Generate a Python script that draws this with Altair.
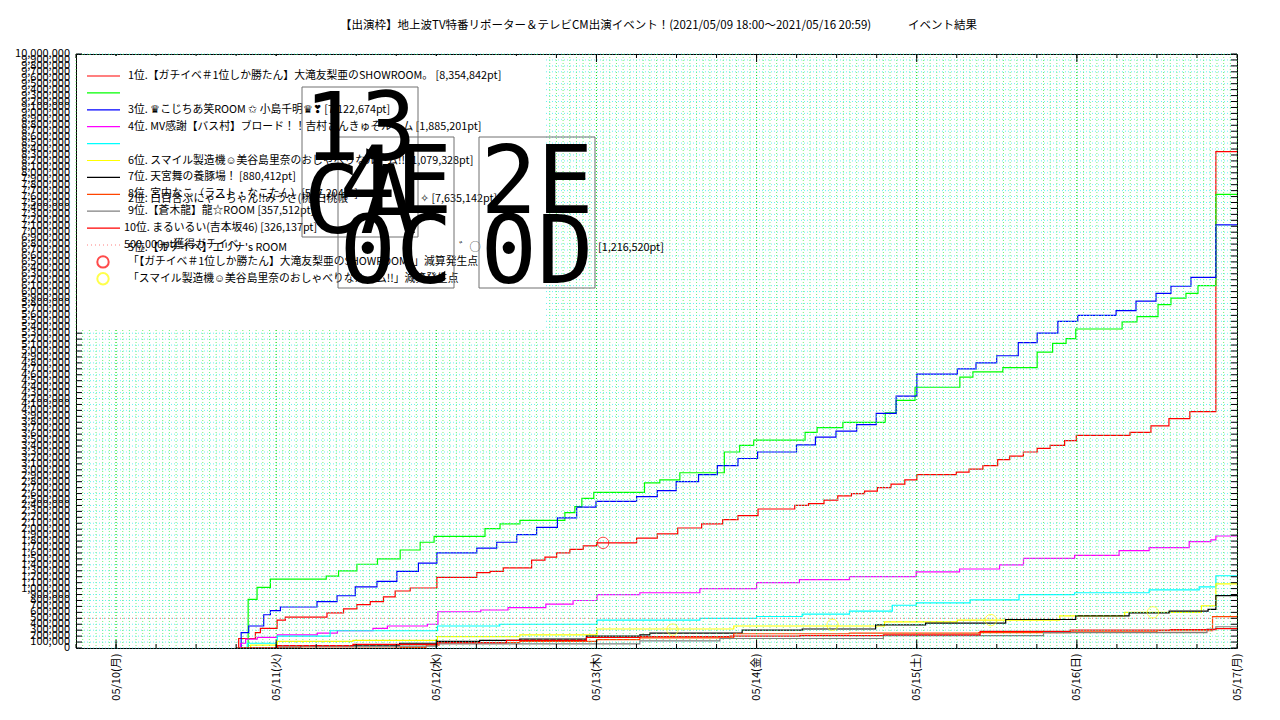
import json
import altair as alt
import pandas as pd

W, H = 1161, 594
FONT = "Noto Sans CJK JP"

# ---------------- data (time "MM/DD HH:MM", points) ----------------
s01_red = [("05/10 18:00",0),("05/10 18:23",160000),("05/10 20:53",260000),("05/10 21:38",330000),("05/11 00:08",470000),("05/11 01:23",520000),("05/11 07:37",590000),("05/11 10:06",660000),("05/11 12:06",730000),("05/11 14:06",780000),("05/11 16:05",860000),("05/11 17:50",960000),("05/11 20:05",1010000),("05/12 00:05",1190000),("05/12 06:04",1270000),("05/12 08:03",1290000),("05/12 10:02",1350000),("05/12 14:17",1480000),("05/12 16:17",1530000),("05/12 18:02",1600000),("05/12 20:01",1660000),("05/12 22:01",1720000),("05/13 00:01",1770000),("05/13 06:01",1850000),("05/13 09:07",1920000),("05/13 12:11",2020000),("05/13 15:46",2090000),("05/13 18:55",2160000),("05/13 21:13",2230000),("05/14 00:13",2340000),("05/14 05:43",2400000),("05/14 07:47",2430000),("05/14 10:06",2490000),("05/14 12:10",2560000),("05/14 14:13",2600000),("05/14 16:11",2640000),("05/14 18:06",2700000),("05/14 20:09",2760000),("05/14 22:13",2830000),("05/15 00:01",2920000),("05/15 05:56",2960000),("05/15 07:51",3010000),("05/15 09:55",3070000),("05/15 12:08",3170000),("05/15 13:56",3230000),("05/15 15:59",3300000),("05/15 18:03",3360000),("05/15 20:00",3410000),("05/15 22:10",3490000),("05/15 23:55",3580000),("05/16 07:58",3630000),("05/16 11:06",3740000),("05/16 13:48",3860000),("05/16 16:56",3980000),("05/16 20:50",8354842),("05/17 00:00",8354842)]
s02_green = [("05/10 18:00",0),("05/10 19:48",820000),("05/10 21:08",1020000),("05/10 23:08",1160000),("05/11 07:30",1210000),("05/11 09:21",1300000),("05/11 12:06",1410000),("05/11 15:11",1500000),("05/11 18:35",1650000),("05/11 21:35",1780000),("05/11 23:40",1880000),("05/12 07:18",2010000),("05/12 09:33",2090000),("05/12 12:32",2150000),("05/12 19:16",2280000),("05/12 20:46",2380000),("05/12 21:49",2520000),("05/12 23:36",2620000),("05/13 07:12",2780000),("05/13 09:30",2830000),("05/13 12:30",2950000),("05/13 19:10",3300000),("05/13 21:28",3410000),("05/13 23:34",3500000),("05/14 07:16",3630000),("05/14 09:04",3710000),("05/14 12:56",3800000),("05/14 19:17",3960000),("05/14 20:55",4170000),("05/14 23:45",4390000),("05/15 06:28",4560000),("05/15 08:25",4650000),("05/15 12:54",4720000),("05/15 18:03",4980000),("05/15 20:22",5130000),("05/15 22:23",5210000),("05/15 23:50",5370000),("05/16 06:47",5490000),("05/16 09:01",5580000),("05/16 12:10",5780000),("05/16 14:06",5890000),("05/16 16:21",5970000),("05/16 18:09",6100000),("05/16 20:50",7635142),("05/17 00:00",7635142)]
s03_blue = [("05/10 18:00",0),("05/10 18:45",260000),("05/10 19:53",370000),("05/10 22:08",560000),("05/10 23:08",630000),("05/11 00:38",690000),("05/11 06:07",780000),("05/11 09:07",880000),("05/11 11:51",1030000),("05/11 15:06",1120000),("05/11 18:05",1290000),("05/11 21:19",1430000),("05/12 00:05",1600000),("05/12 06:04",1680000),("05/12 09:03",1780000),("05/12 12:03",1910000),("05/12 15:02",2030000),("05/12 18:09",2190000),("05/12 21:02",2370000),("05/12 23:56",2470000),("05/13 06:01",2550000),("05/13 09:07",2650000),("05/13 11:57",2800000),("05/13 15:18",2920000),("05/13 18:07",3070000),("05/13 21:13",3190000),("05/14 00:09",3300000),("05/14 05:59",3420000),("05/14 08:49",3550000),("05/14 11:54",3650000),("05/14 15:00",3760000),("05/14 17:56",3950000),("05/14 20:55",4240000),("05/15 00:01",4610000),("05/15 06:05",4700000),("05/15 08:53",4800000),("05/15 11:59",4920000),("05/15 15:13",5140000),("05/15 18:03",5300000),("05/15 21:09",5500000),("05/16 00:08",5600000),("05/16 05:53",5680000),("05/16 08:52",5840000),("05/16 11:52",5970000),("05/16 14:06",6090000),("05/16 17:06",6240000),("05/16 20:50",7122674),("05/17 00:00",7122674)]
s04_magenta = [("05/10 18:00",0),("05/10 18:40",80000),("05/10 19:25",150000),("05/10 21:10",180000),("05/11 00:10",220000),("05/11 06:10",250000),("05/11 09:10",290000),("05/11 14:30",330000),("05/11 16:40",370000),("05/11 22:40",400000),("05/12 00:15",610000),("05/12 06:40",640000),("05/12 10:45",680000),("05/12 16:25",740000),("05/12 20:30",800000),("05/13 00:05",900000),("05/13 06:30",930000),("05/13 15:30",1000000),("05/14 00:00",1100000),("05/14 06:25",1150000),("05/14 13:55",1200000),("05/14 23:55",1280000),("05/15 06:25",1330000),("05/15 12:25",1400000),("05/15 16:00",1510000),("05/15 23:40",1560000),("05/16 06:20",1640000),("05/16 10:50",1690000),("05/16 16:50",1790000),("05/16 20:05",1820000),("05/16 20:50",1885201),("05/17 00:00",1885201)]
s05_cyan = [("05/10 18:00",0),("05/10 19:40",80000),("05/11 00:10",200000),("05/11 08:05",290000),("05/12 00:10",370000),("05/12 09:30",400000),("05/13 00:05",470000),("05/13 15:30",500000),("05/14 00:00",530000),("05/14 06:50",570000),("05/14 13:55",620000),("05/14 20:20",720000),("05/14 23:55",760000),("05/15 08:00",810000),("05/15 15:20",900000),("05/15 23:40",930000),("05/16 10:50",980000),("05/16 18:20",1030000),("05/16 20:50",1216520),("05/17 00:00",1216520)]
s06_yellow = [("05/10 18:00",0),("05/10 20:10",50000),("05/11 00:10",110000),("05/11 11:30",130000),("05/12 00:10",190000),("05/12 12:30",220000),("05/13 00:05",320000),("05/13 20:35",370000),("05/14 19:10",440000),("05/15 06:05",470000),("05/15 21:25",540000),("05/16 07:10",600000),("05/16 18:40",710000),("05/16 20:50",1079328),("05/17 00:00",1079328)]
s07_black = [("05/10 18:00",0),("05/11 03:40",40000),("05/11 18:30",80000),("05/12 00:10",110000),("05/12 06:30",130000),("05/12 12:30",150000),("05/12 22:30",200000),("05/13 06:30",220000),("05/13 08:00",250000),("05/13 21:50",300000),("05/14 06:50",320000),("05/14 17:50",390000),("05/15 01:20",420000),("05/15 13:20",480000),("05/15 23:50",540000),("05/16 07:50",590000),("05/16 13:50",620000),("05/16 19:40",650000),("05/16 20:50",880412),("05/17 00:00",880412)]
s08_orange = [("05/10 18:00",0),("05/11 18:35",10000),("05/11 22:30",50000),("05/12 00:25",90000),("05/12 12:30",110000),("05/13 00:04",140000),("05/13 06:30",170000),("05/13 20:34",240000),("05/14 13:54",250000),("05/15 09:18",260000),("05/15 23:00",270000),("05/16 12:00",290000),("05/16 20:20",527204),("05/17 00:00",527204)]
s09_gray = [("05/10 18:00",0),("05/11 00:10",30000),("05/12 00:10",70000),("05/13 06:30",120000),("05/13 18:30",160000),("05/14 19:00",210000),("05/15 19:00",260000),("05/16 19:30",320000),("05/16 20:50",357512),("05/17 00:00",357512)]
s10_red = [("05/10 18:00",0),("05/11 00:10",40000),("05/11 11:30",60000),("05/12 00:10",90000),("05/12 10:30",130000),("05/12 22:30",180000),("05/13 06:30",190000),("05/13 20:00",200000),("05/14 06:30",210000),("05/14 19:00",220000),("05/15 09:30",280000),("05/15 23:00",300000),("05/16 14:00",310000),("05/16 20:50",326137),("05/17 00:00",326137)]

series_data = [s01_red, s02_green, s03_blue, s04_magenta, s05_cyan,
               s06_yellow, s07_black, s08_orange, s09_gray, s10_red]
series_colors = ["#ff0000", "#00ff00", "#0000ff", "#ff00ff", "#00ffff",
                 "#ffff00", "#000000", "#ff4500", "#808080", "#ff0000"]

red_marks = [("05/13 01:00", 1770000)]
yellow_marks = [("05/13 11:24", 310000), ("05/14 11:23", 390000),
                ("05/15 11:06", 470000), ("05/16 11:24", 600000)]
threshold = 500000

y_tick_values = list(range(0, 10_000_001, 100_000))
y_tick_labels = [f"{v:,}" for v in y_tick_values]
day_labels = ["05/10(月)", "05/11(火)", "05/12(水)", "05/13(木)",
              "05/14(金)", "05/15(土)", "05/16(日)", "05/17(月)"]
title_main = "【出演枠】地上波TV特番リポーター＆テレビCM出演イベント！(2021/05/09 18:00～2021/05/16 20:59)"
title_right = "イベント結果"

legend_labels = [
    "1位.【ガチイベ＃1位しか勝たん】大滝友梨亜のSHOWROOM。 [8,354,842pt]",
    "",
    "3位. ♛こじちあ笑ROOM ✩ 小島千明♛❣ [7,122,674pt]",
    "4位. MV感謝【バス村】ブロード！！吉村さんきゅそルーム [1,885,201pt]",
    "",
    "6位. スマイル製造機☺美谷島里奈のおしゃべりなルーム!! [1,079,328pt]",
    "7位. 天宮舞の養豚場！ [880,412pt]",
    "8位. 宮内なこ（ラスト・なこたん）[527,204pt]",
    "9位.【蒼木龍】龍☆ROOM [357,512pt]",
    "10位. まるいるい(吉本坂46) [326,137pt]",
    "500,000pt獲得ガチイベ",
    "「【ガチイベ＃1位しか勝たん】大滝友梨亜のSHOWROOM。」減算発生点",
    "「スマイル製造機☺美谷島里奈のおしゃべりなルーム!!」減算発生点",
]
extra_labels = ["2位. 白百合ぷにゃーちゃん!!みうさ(桃)白桃帳", "✧ [7,635,142pt]",
                "5位.【ガチイベ】エリナ's ROOM", "゛◯", "[1,216,520pt]"]
tofu_rows = [("13", "CA"), ("4E", "0C"), ("2E", "0D")]


def iso(s):
    md, hm = s.split()
    m, d = md.split("/")
    return f"2021-{m}-{d}T{hm}:00Z"


def ms(s):
    return int(pd.Timestamp(iso(s)).value // 10**6)


rows = []
keys = []
for k, pts in enumerate(series_data):
    key = f"s{k+1:02d}"
    keys.append(key)
    for t, v in pts:
        rows.append({"s": key, "t": iso(t), "v": v})
df = pd.DataFrame(rows)

x_scale = alt.Scale(type="utc", domain=[ms("05/09 18:00"), ms("05/17 00:00")])
y_scale = alt.Scale(domain=[0, 10_000_000])

day_ms = [ms(f"05/{d:02d} 00:00") for d in range(10, 18)]
label_expr = (json.dumps(day_labels, ensure_ascii=False)
              + f"[round((datum.value - {day_ms[0]}) / 86400000)]")

x_axis = alt.Axis(values=day_ms, labelExpr=label_expr, labelAngle=270,
                  labelAlign="right", labelBaseline="middle", labelPadding=5,
                  ticks=False, domain=False, grid=False, title=None,
                  labelFont=FONT, labelFontSize=11, labelColor="black",
                  labelOverlap=False, labelFlush=False)


def X(field="t:T"):
    return alt.X(field, scale=x_scale, title=None)


def Y(field="v:Q"):
    return alt.Y(field, scale=y_scale, title=None)


# ---------------- grid ----------------
hours = pd.date_range(iso("05/09 18:00"), iso("05/17 00:00"), freq="1h")
hour_df = pd.DataFrame({"t": [h.strftime("%Y-%m-%dT%H:%M:%SZ") for h in hours]})
day_df = pd.DataFrame({"t": [iso(f"05/{d:02d} 00:00") for d in range(10, 17)]})
q_df = pd.DataFrame({"t": [h.strftime("%Y-%m-%dT%H:%M:%SZ") for h in
                           pd.date_range(iso("05/09 18:00"), iso("05/17 00:00"), freq="6h")]})
yv_df = pd.DataFrame({"v": y_tick_values, "label": y_tick_labels})

# main layer first so that its axes are the ones used
lines = alt.Chart(df).mark_line(interpolate="step-after", strokeWidth=1.2, clip=True).encode(
    x=alt.X("t:T", scale=x_scale, axis=x_axis),
    y=alt.Y("v:Q", scale=y_scale, axis=None),
    color=alt.Color("s:N", scale=alt.Scale(domain=keys, range=series_colors), legend=None),
)

vgrid = alt.Chart(hour_df).mark_rule(stroke="#44ee44", strokeWidth=1, strokeDash=[1, 2], opacity=0.75).encode(x=X())
dgrid = alt.Chart(day_df).mark_rule(stroke="#22dd22", strokeWidth=1, strokeDash=[1, 2]).encode(x=X())
hgrid = alt.Chart(yv_df).mark_rule(stroke="#44eeee", strokeWidth=1, strokeDash=[1, 2], opacity=0.8).encode(y=Y())

thr = alt.Chart(pd.DataFrame({"v": [threshold]})).mark_rule(
    stroke="#ff7070", strokeWidth=1, strokeDash=[1, 3]).encode(y=Y())

rm_df = pd.DataFrame({"t": [iso(t) for t, _ in red_marks], "v": [v for _, v in red_marks]})
ym_df = pd.DataFrame({"t": [iso(t) for t, _ in yellow_marks], "v": [v for _, v in yellow_marks]})
red_pts = alt.Chart(rm_df).mark_point(shape="circle", filled=False, size=130, stroke="#ff0000", strokeWidth=1).encode(x=X(), y=Y())
yel_pts = alt.Chart(ym_df).mark_point(shape="circle", filled=False, size=130, stroke="#ffff00", strokeWidth=1).encode(x=X(), y=Y())

# ---------------- y labels and inward ticks ----------------
y_labels = alt.Chart(yv_df).mark_text(
    align="right", baseline="middle", font=FONT, fontSize=11, color="black", dx=-6).encode(
    y=Y(), x=alt.value(0), text="label:N")
yt_left = alt.Chart(yv_df).mark_rule(color="black").encode(y=Y(), x=alt.value(0), x2=alt.value(6))
yt_right = alt.Chart(yv_df).mark_rule(color="black").encode(y=Y(), x=alt.value(W - 6), x2=alt.value(W))
xt_bq = alt.Chart(q_df).mark_rule(color="black").encode(x=X(), y=alt.value(H), y2=alt.value(H - 4))
xt_tq = alt.Chart(q_df).mark_rule(color="black").encode(x=X(), y=alt.value(0), y2=alt.value(4))
xt_bd = alt.Chart(day_df).mark_rule(color="black").encode(x=X(), y=alt.value(H), y2=alt.value(H - 8))
xt_td = alt.Chart(day_df).mark_rule(color="black").encode(x=X(), y=alt.value(0), y2=alt.value(8))

# ---------------- key (legend) ----------------
one = pd.DataFrame({"a": [0]})
key_bg = alt.Chart(one).mark_rect(fill="white").encode(
    x=alt.value(1), x2=alt.value(469), y=alt.value(2), y2=alt.value(276))

ROW0, DY = 22.0, 16.9
ln_df = pd.DataFrame({"y": [ROW0 + DY * i for i in range(10)], "c": series_colors})
key_lines = alt.Chart(ln_df).mark_rule(strokeWidth=1.2).encode(
    x=alt.value(11), x2=alt.value(44),
    y=alt.Y("y:Q", scale=None, title=None),
    color=alt.Color("c:N", scale=None, legend=None))
key_dot = alt.Chart(one).mark_rule(stroke="#ff8080", strokeWidth=1, strokeDash=[1, 3]).encode(
    x=alt.value(11), x2=alt.value(44), y=alt.value(ROW0 + DY * 10))
key_c1 = alt.Chart(one).mark_point(shape="circle", filled=False, size=130, stroke="#ff0000").encode(
    x=alt.value(27), y=alt.value(ROW0 + DY * 11))
key_c2 = alt.Chart(one).mark_point(shape="circle", filled=False, size=130, stroke="#ffff00").encode(
    x=alt.value(27), y=alt.value(ROW0 + DY * 12))

txt_x = [52, 52, 52, 52, 52, 52, 52, 52, 52, 48, 48, 52, 52]
txt_rows = [{"x": txt_x[i], "y": ROW0 + DY * i, "text": lab}
            for i, lab in enumerate(legend_labels) if lab]
txt_rows += [
    {"x": 52, "y": 145, "text": extra_labels[0]},
    {"x": 344, "y": 145, "text": extra_labels[1]},
    {"x": 52, "y": 194, "text": extra_labels[2]},
    {"x": 383, "y": 194, "text": extra_labels[3]},
    {"x": 522, "y": 194, "text": extra_labels[4]},
]
key_text = alt.Chart(pd.DataFrame(txt_rows)).mark_text(
    align="left", baseline="middle", font=FONT, fontSize=10.8, color="black").encode(
    x=alt.X("x:Q", scale=None, title=None), y=alt.Y("y:Q", scale=None, title=None), text="text:N")

title_df = pd.DataFrame([{"x": 264, "y": -28, "text": title_main},
                         {"x": 832, "y": -28, "text": title_right}])
title_text = alt.Chart(title_df).mark_text(
    align="left", baseline="middle", font=FONT, fontSize=11.5, color="black").encode(
    x=alt.X("x:Q", scale=None, title=None), y=alt.Y("y:Q", scale=None, title=None), text="text:N")

# missing-glyph boxes drawn by the original renderer
box_df = pd.DataFrame({"x": [226, 262, 403], "x2": [342, 378, 519],
                       "y": [33, 83, 83], "y2": [183, 234, 234]})
boxes = alt.Chart(box_df).mark_rect(fillOpacity=0, stroke="#707070", strokeWidth=1).encode(
    x=alt.X("x:Q", scale=None, title=None), x2="x2:Q",
    y=alt.Y("y:Q", scale=None, title=None), y2="y2:Q")
tofu_df = pd.DataFrame({
    "x": [284, 284, 320, 320, 461, 461],
    "y": [106, 179, 159, 229, 159, 229],
    "text": [tofu_rows[0][0], tofu_rows[0][1], tofu_rows[1][0], tofu_rows[1][1],
             tofu_rows[2][0], tofu_rows[2][1]]})
tofu = alt.Chart(tofu_df).mark_text(
    align="center", baseline="alphabetic", font="DejaVu Sans Mono", fontSize=94, color="black").encode(
    x=alt.X("x:Q", scale=None, title=None), y=alt.Y("y:Q", scale=None, title=None), text="text:N")

chart = alt.layer(
    lines, vgrid, dgrid, hgrid, thr, red_pts, yel_pts,
    y_labels, yt_left, yt_right, xt_bq, xt_tq, xt_bd, xt_td,
    key_bg, key_lines, key_dot, key_c1, key_c2, key_text, title_text, boxes, tofu,
).properties(
    width=W, height=H,
    autosize=alt.AutoSizeParams(type="none"),
    padding={"left": 68, "top": 46, "right": 35, "bottom": 64},
    background="white",
).configure_view(stroke="black", strokeWidth=1
).configure_axis(labelOverlap=False, labelFlush=False)

chart.save("out.html", embed_options={"renderer": "svg", "actions": False})
